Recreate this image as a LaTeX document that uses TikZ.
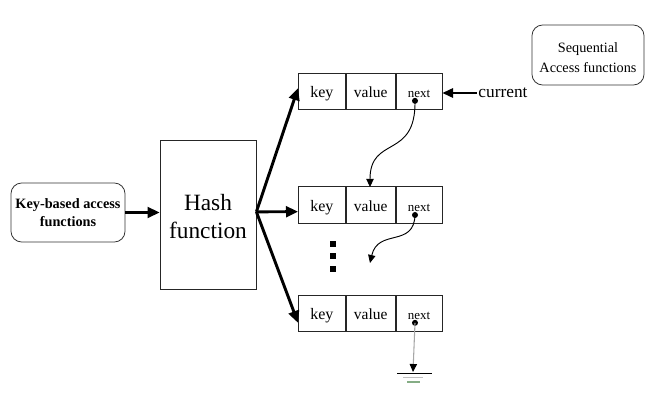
\documentclass[tikz,border=0pt]{standalone}
\usepackage{fontspec}
\setmainfont{Liberation Serif}
\usetikzlibrary{arrows.meta,calc}
\begin{document}
\begin{tikzpicture}[x=0.75pt,y=-0.75pt,
  cell/.style={draw=black!85,line width=0.6pt,minimum height=27.5pt,inner sep=0pt,anchor=west,text height=9.5pt,text depth=0pt},
  keyc/.style={cell,minimum width=35.25pt,font=\fontsize{12}{12}\selectfont},
  valc/.style={cell,minimum width=36.75pt,font=\fontsize{11.6}{12}\selectfont},
  nextc/.style={cell,minimum width=34.5pt,font=\fontsize{9.7}{10}\selectfont},
  rbox/.style={draw=black!80,rounded corners=8pt,line width=0.6pt,inner sep=0pt,align=center},
  bigarrow/.style={line width=2.2pt,-{Triangle[length=9pt,width=8pt]}},
  thinarrow/.style={line width=0.7pt,-{Triangle[length=6pt,width=5.5pt]}},
  ptr/.style={circle,fill=black,inner sep=0pt,minimum size=4.5pt},
  dotsq/.style={fill=black,inner sep=0pt,minimum size=4.5pt}
]
\useasboundingbox (0,0) rectangle (651,406);
% key-based box
\node[rbox,minimum width=85.5pt,minimum height=44.25pt,font=\bfseries\fontsize{10.7}{13.5}\selectfont] (kb) at (68,212.5) {Key-based access\\functions};
% hash box
\node[draw=black!85,line width=0.6pt,minimum width=72pt,minimum height=111.75pt,inner sep=0pt] (hash) at (208,214.5) {};
\node[align=center,inner sep=0pt,font=\fontsize{17.5}{21}\selectfont] (hasht) at (208,217) {Hash\\function};
% sequential box
\node[rbox,minimum width=84pt,minimum height=45pt] (seq) at (588,55) {};
\node[align=center,inner sep=0pt,font=\fontsize{10.7}{15}\selectfont] (seqt) at (588,58) {Sequential\\Access functions};
% rows
\node[keyc] (k1) at (298,91.5) {key};
\node[valc,anchor=west] (v1) at (k1.east) {value};
\node[nextc,anchor=west] (n1) at (v1.east) {next};
\node[keyc] (k2) at (298,205) {key};
\node[valc,anchor=west] (v2) at (k2.east) {value};
\node[nextc,anchor=west] (n2) at (v2.east) {next};
\node[keyc] (k3) at (298,313.5) {key};
\node[valc,anchor=west] (v3) at (k3.east) {value};
\node[nextc,anchor=west] (n3) at (v3.east) {next};
% pointers
\node[ptr] (p1) at ([xshift=-3pt,yshift=-7pt]n1.center) {};
\node[ptr] (p2) at ([xshift=-3pt,yshift=-7.5pt]n2.center) {};
\node[ptr] (p3) at ([xshift=-3pt,yshift=-7pt]n3.center) {};
% current
\node[font=\fontsize{13}{13}\selectfont,inner sep=1pt] (cur) at (503,93) {current};
% dots
\node[dotsq] (d1) at (333,244) {};
\node[dotsq] (d2) at (333,256.5) {};
\node[dotsq] (d3) at (333,269) {};
% arrows
\draw[bigarrow] (kb.east) -- (hash.west |- kb.east);
\draw[bigarrow] ([yshift=2pt]hash.east) -- ([yshift=2.5pt]k1.west);
\draw[bigarrow] ([yshift=2pt]hash.east) -- ([yshift=-5pt]k2.west);
\draw[bigarrow] ([yshift=2pt]hash.east) -- ([yshift=-7pt]k3.west);
\draw[line width=1.6pt,-{Triangle[length=8pt,width=7pt]}] (cur.west) -- (n1.east |- cur.west);
\coordinate (t1) at (370,187);
\coordinate (t2) at (370,263);
\draw[thinarrow] (p1.center) .. controls (416,160) and (370,135) .. (t1);
\draw[thinarrow] (p2.center) .. controls (414,248) and (378,228) .. (t2);
% ground
\coordinate (g) at (413,372);
\draw[gray!70,line width=0.8pt,-{Triangle[length=6pt,width=5.5pt,color=black]}] (p3.center) -- (g);
\draw[black,line width=0.8pt] (397,373.5) -- (432,373.5);
\draw[gray!50,line width=0.8pt] (403,377.5) -- (423,377.5);
\draw[green!20!gray!80,line width=0.8pt] (407,382) -- (420,382);
\end{tikzpicture}
\end{document}
